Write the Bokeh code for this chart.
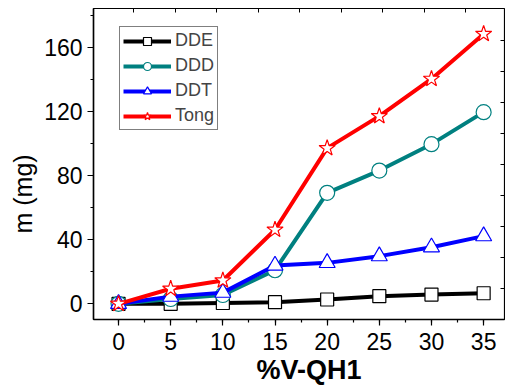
from bokeh.plotting import figure
from bokeh.models import (Range1d, LinearAxis, FixedTicker, Legend, LegendItem,
                          ColumnDataSource, Title, SingleIntervalTicker)
from bokeh.embed import file_html
from bokeh.resources import INLINE

x_vals = [0, 5, 10, 15, 20, 25, 30, 35]
dde = [0, 0, 0.5, 1, 2.7, 4.8, 5.8, 6.6]
ddd = [0, 3, 5.5, 21, 69.4, 83.3, 99.8, 119.8]
ddt = [0, 4.5, 7, 24, 25.6, 29.8, 35.4, 42.3]
tong = [0, 9.4, 14.6, 46.3, 97.3, 117.3, 140.6, 168.7]

FONT = "Liberation Sans"

p = figure(width=505, height=389, output_backend="svg", toolbar_location=None,
           x_range=Range1d(-2.4, 37.0), y_range=Range1d(-9.8, 184.6),
           min_border_left=93, min_border_top=8, min_border_bottom=70,
           min_border_right=1)
p.xgrid.visible = False
p.ygrid.visible = False
p.outline_line_color = "black"
p.outline_line_width = 1.2
p.background_fill_color = "white"
p.border_fill_color = "white"

p.xaxis.ticker = SingleIntervalTicker(interval=5, num_minor_ticks=2)
p.yaxis.ticker = SingleIntervalTicker(interval=40, num_minor_ticks=2)
for ax in (p.xaxis[0], p.yaxis[0]):
    ax.axis_line_width = 1.5
    ax.major_tick_line_width = 1.2
    ax.minor_tick_line_width = 1.2
    ax.major_tick_out = 6
    ax.major_tick_in = 0
    ax.minor_tick_out = 3
    ax.minor_tick_in = 0
    ax.major_label_text_font = FONT
    ax.major_label_text_font_size = "23px"
    ax.major_label_text_color = "black"
p.yaxis.major_label_standoff = 5
p.xaxis.major_label_standoff = 7

# x-axis title below
xtitle = Title(text="%V-QH1", align="left", offset=163, standoff=0,
               text_font=FONT, text_font_size="27px", text_font_style="bold",
               text_color="black")
p.add_layout(xtitle, "below")

# y-axis title on the left side
ytitle = Title(text="m (mg)", align="left", offset=86, standoff=10,
               text_font=FONT, text_font_size="25px", text_font_style="normal",
               text_color="black")
p.add_layout(ytitle, "left")

# mirrored top/right axes (ticks only, no labels)
p.extra_x_ranges = {"top": Range1d(0, 411)}
p.extra_y_ranges = {"right": Range1d(0, 311)}
top = LinearAxis(x_range_name="top", ticker=FixedTicker(ticks=[40 + 41.5 * i for i in range(9)]),
                 major_tick_in=4, major_tick_out=0, minor_tick_line_color=None,
                 major_label_text_color=None, major_label_standoff=0,
                 axis_line_color=None)
right = LinearAxis(y_range_name="right", ticker=FixedTicker(ticks=[31.3 + 31 * i for i in range(9)]),
                   major_tick_in=4, major_tick_out=0, minor_tick_line_color=None,
                   major_label_text_color=None, major_label_standoff=0,
                   axis_line_color=None)
p.add_layout(top, "above")
p.add_layout(right, "right")

series = [
    ("DDE", dde, "black", "square", 13),
    ("DDD", ddd, "#008080", "circle", 15),
    ("DDT", ddt, "#0000FF", "triangle", 16),
    ("Tong", tong, "#FF0000", "star", 17),
]
items = []
for name, ys, col, mk, sz in series:
    src = ColumnDataSource(dict(x=x_vals, y=ys))
    ln = p.line("x", "y", source=src, line_color=col, line_width=4)
    sc = p.scatter("x", "y", source=src, marker=mk, size=sz, line_color=col,
                   fill_color="white", line_width=1.2)
    items.append(LegendItem(label=name, renderers=[ln, sc]))

legend = Legend(items=items, location=(26, 189), label_text_font=FONT,
                label_text_font_size="18px", glyph_width=48, glyph_height=20,
                label_height=20, spacing=4, padding=3, margin=0,
                label_standoff=4, border_line_color="black", border_line_width=1,
                background_fill_alpha=0)
p.add_layout(legend, "center")

open("out.html", "w").write(file_html(p, INLINE))
